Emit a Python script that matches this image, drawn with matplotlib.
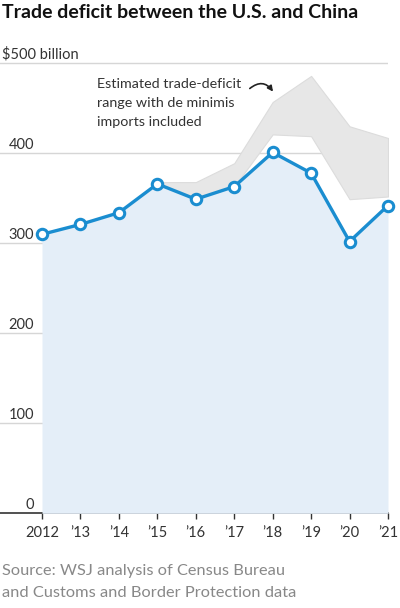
import matplotlib.pyplot as plt
import numpy as np

# data (billions of dollars)
years = [2012, 2013, 2014, 2015, 2016, 2017, 2018, 2019, 2020, 2021]
deficit = [310, 321, 334, 366, 349, 363, 401, 378, 302, 342]

range_years = [2015, 2016, 2017, 2018, 2019, 2020, 2021]
range_low = [366, 349, 363, 421, 419, 349, 352]
range_high = [368, 368, 389, 457, 486, 430, 417]

year_labels = ['2012', '\u201913', '\u201914', '\u201915', '\u201916',
               '\u201917', '\u201918', '\u201919', '\u201920', '\u201921']
y_ticks = [0, 100, 200, 300, 400, 500]
y_labels = ['0', '100', '200', '300', '400', '$500 billion']

blue = '#1a8dd0'
plt.rcParams['font.family'] = ['Lato', 'DejaVu Sans']

fig = plt.figure(figsize=(4, 6.08), dpi=100)
ax = fig.add_axes([0, 0.1557, 0.97, 0.755])

px_year = (388 - 42) / 9.0
ax.set_xlim(2012 - 42 / px_year, 2021)
ax.set_ylim(0, 510)

# grid lines
for t in y_ticks[1:]:
    ax.axhline(t, color='#d6d6d6', lw=1, zorder=1)

# estimated range with de minimis imports
ax.fill_between(range_years, range_low, range_high, color='#e7e7e7',
                edgecolor='#dcdcdc', lw=0.8, zorder=2)
# area under the line
ax.fill_between(years, 0, deficit, color='#e4eef8', lw=0, zorder=3)
ax.plot(years, deficit, color=blue, lw=2.4, zorder=4,
        marker='o', ms=7.5, mfc='white', mec=blue, mew=2.2, clip_on=False)

# y labels above the grid lines
for t, lab in zip(y_ticks, y_labels):
    if t == 500:
        ax.text(2 / 400, t + 5, lab, transform=ax.get_yaxis_transform(),
                ha='left', va='baseline', fontsize=10.5, color='#333333')
    else:
        ax.text(34 / 388, t + 5, lab, transform=ax.get_yaxis_transform(),
                ha='right', va='baseline', fontsize=10.5, color='#333333')

ax.set_yticks([])
ax.set_xticks(years)
ax.set_xticklabels(year_labels, fontsize=10.5, color='#333333')
ax.tick_params(axis='x', length=4, width=1, color='#333333', pad=5)
for s in ['top', 'right', 'left']:
    ax.spines[s].set_visible(False)
ax.spines['bottom'].set_color('#333333')
ax.spines['bottom'].set_linewidth(1.2)

# annotation
ax.text(2013.43, 484, 'Estimated trade-deficit\nrange with de minimis\nimports included',
        fontsize=10.3, color='#333333', va='top', ha='left', linespacing=1.7)
ax.annotate('', xy=(2018.05, 466), xytext=(2017.35, 470),
            arrowprops=dict(arrowstyle='-|>', color='#222222', lw=1.2,
                            mutation_scale=8,
                            connectionstyle='arc3,rad=-0.6'))

fig.text(0.005, 0.993, 'Trade deficit between the U.S. and China',
         fontsize=14, fontweight='bold', color='#111111', va='top', ha='left')
fig.text(0.005, 0.073, 'Source: WSJ analysis of Census Bureau\nand Customs and Border Protection data',
         fontsize=11.8, color='#888888', va='top', ha='left', linespacing=1.8)

fig.savefig('out.png', dpi=100)
